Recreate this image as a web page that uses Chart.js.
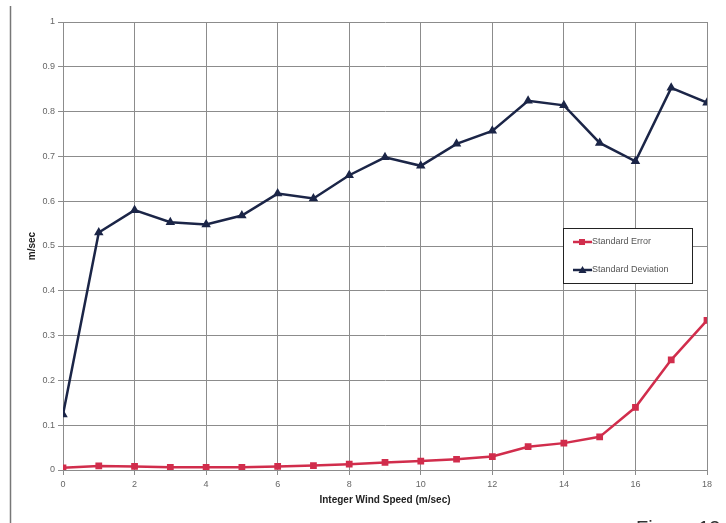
<!DOCTYPE html>
<html>
<head>
<meta charset="utf-8">
<script src="https://cdn.jsdelivr.net/npm/chart.js@4"></script>
<style>
  html, body { margin: 0; padding: 0; background: #fff; }
  #wrap { width: 726px; height: 523px; position: relative; }
</style>
</head>
<body>
<div id="wrap"><canvas id="windchart" width="726" height="523"></canvas></div>
<script>
// integer wind speed buckets (m/sec)
const windSpeeds = [0,1,2,3,4,5,6,7,8,9,10,11,12,13,14,15,16,17,18];
const stdError = [0.005,0.009,0.008,0.006,0.006,0.006,0.008,0.010,0.013,0.017,0.020,0.024,0.030,0.052,0.060,0.074,0.140,0.246,0.334];
const stdDeviation = [0.124,0.530,0.580,0.553,0.548,0.568,0.617,0.606,0.658,0.698,0.679,0.728,0.757,0.824,0.814,0.730,0.689,0.853,0.820];
const seriesNames = ['Standard Error', 'Standard Deviation'];
const yTickLabels = {0:'0',1:'0.1',2:'0.2',3:'0.3',4:'0.4',5:'0.5',6:'0.6',7:'0.7',8:'0.8',9:'0.9',10:'1'};

const RED = '#d12d4c';
const NAVY = '#1b2547';
const GRID = '#8c8c8c';

const toPoints = (vals) => windSpeeds.map((x, i) => ({x: x, y: vals[i]}));

// legend drawn inside the plot, like the original
const boxLegend = {
  id: 'boxLegend',
  afterDraw(chart) {
    const ctx = chart.ctx;
    const x = 563, y = 228, w = 129, h = 55;
    ctx.save();
    ctx.fillStyle = '#fff';
    ctx.fillRect(x, y, w, h);
    ctx.strokeStyle = '#222';
    ctx.lineWidth = 1;
    ctx.strokeRect(x + 0.5, y + 0.5, w, h);
    chart.data.datasets.forEach((ds, i) => {
      const ly = y + 14 + i * 28;
      ctx.strokeStyle = ds.borderColor;
      ctx.lineWidth = 2.5;
      ctx.beginPath();
      ctx.moveTo(x + 10, ly);
      ctx.lineTo(x + 29, ly);
      ctx.stroke();
      ctx.fillStyle = ds.borderColor;
      ctx.beginPath();
      if (ds.pointStyle === 'rect') {
        ctx.rect(x + 16, ly - 3, 6, 6);
      } else {
        ctx.moveTo(x + 19.5, ly - 4);
        ctx.lineTo(x + 23.5, ly + 3);
        ctx.lineTo(x + 15.5, ly + 3);
        ctx.closePath();
      }
      ctx.fill();
      ctx.fillStyle = '#555';
      ctx.font = '9px "Liberation Sans", Arial, sans-serif';
      ctx.textBaseline = 'middle';
      ctx.fillText(ds.label, x + 29, ly);
    });
    ctx.restore();
  }
};

// page edge and the cut-off figure caption
const pageBits = {
  id: 'pageBits',
  beforeDraw(chart) {
    const ctx = chart.ctx;
    ctx.save();
    ctx.strokeStyle = '#777';
    ctx.lineWidth = 1.5;
    ctx.beginPath();
    ctx.moveTo(10.5, 6);
    ctx.lineTo(10.5, 523);
    ctx.stroke();
    ctx.fillStyle = '#333';
    ctx.font = '20px "Liberation Sans", Arial, sans-serif';
    ctx.textBaseline = 'top';
    ctx.fillText('Figure 13', 636, 519);
    ctx.restore();
  }
};

new Chart(document.getElementById('windchart'), {
  type: 'line',
  data: {
    datasets: [{
      label: seriesNames[0],
      data: toPoints(stdError),
      borderColor: RED,
      backgroundColor: RED,
      borderWidth: 2.5,
      pointStyle: 'rect',
      pointRadius: 3,
      pointBackgroundColor: RED,
      pointBorderColor: RED,
      tension: 0
    },{
      label: seriesNames[1],
      data: toPoints(stdDeviation),
      borderColor: NAVY,
      backgroundColor: NAVY,
      borderWidth: 2.5,
      pointStyle: 'triangle',
      pointRadius: 3,
      pointBackgroundColor: NAVY,
      pointBorderColor: NAVY,
      tension: 0
    }]
  },
  options: {
    responsive: false,
    animation: false,
    layout: { padding: { left: 0, top: 22, right: 19, bottom: 0 } },
    plugins: {
      legend: { display: false },
      tooltip: { enabled: false }
    },
    scales: {
      x: {
        type: 'linear',
        min: 0,
        max: 18,
        afterFit: (scale) => { scale.height = 53; },
        ticks: {
          stepSize: 2,
          autoSkip: false,
          color: '#666',
          padding: 4,
          maxRotation: 0,
          font: { size: 9, family: '"Liberation Sans", Arial, sans-serif' }
        },
        grid: { color: GRID, lineWidth: 1, tickLength: 5 },
        border: { color: GRID, width: 1 },
        title: {
          display: true,
          text: 'Integer Wind Speed (m/sec)',
          color: '#222',
          padding: { top: 0, bottom: 17 },
          font: { size: 10, weight: 'bold', family: '"Liberation Sans", Arial, sans-serif' }
        }
      },
      y: {
        min: 0,
        max: 1,
        afterFit: (scale) => { scale.width = 63; },
        ticks: {
          stepSize: 0.1,
          autoSkip: false,
          color: '#666',
          padding: 3,
          font: { size: 9, family: '"Liberation Sans", Arial, sans-serif' },
          callback: (v) => yTickLabels[Math.round(v * 10)]
        },
        grid: { color: GRID, lineWidth: 1, tickLength: 5 },
        border: { color: GRID, width: 1 },
        title: {
          display: true,
          text: 'm/sec',
          color: '#222',
          padding: { top: 26, bottom: 0 },
          font: { size: 10, weight: 'bold', family: '"Liberation Sans", Arial, sans-serif' }
        }
      }
    }
  },
  plugins: [pageBits, boxLegend]
});
</script>
</body>
</html>
